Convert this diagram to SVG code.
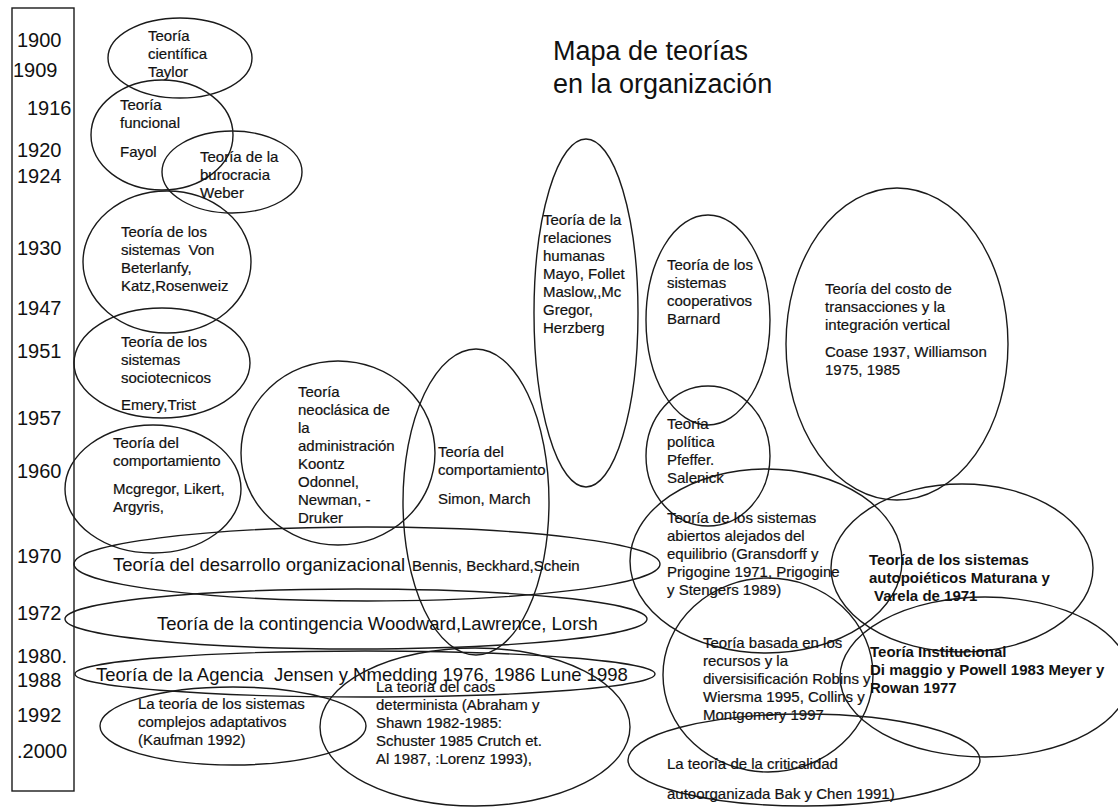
<svg xmlns="http://www.w3.org/2000/svg" width="1118" height="811" viewBox="0 0 1118 811">
<style>
  .bg{fill:#ffffff}
  ellipse,.axis{fill:none;stroke:#1a1a1a;stroke-width:1.4}
  text{font-family:"Liberation Sans",Arial,sans-serif;fill:#111}
  .yr{font-size:20px}
  .t{font-size:15px;stroke:#111;stroke-width:0.2}
  .b{font-size:15px;font-weight:bold}
  .big{font-size:18.5px}
  .title{font-size:27px}
</style>
<rect class="bg" x="0" y="0" width="1118" height="811"/>

<g id="timeline">
  <rect class="axis" x="12" y="8" width="62" height="783"/>
  <text class="yr" x="17" y="47">1900</text>
  <text class="yr" x="13" y="77">1909</text>
  <text class="yr" x="27" y="115">1916</text>
  <text class="yr" x="17" y="157">1920</text>
  <text class="yr" x="17" y="183">1924</text>
  <text class="yr" x="17" y="255">1930</text>
  <text class="yr" x="17" y="315">1947</text>
  <text class="yr" x="17" y="358">1951</text>
  <text class="yr" x="17" y="425">1957</text>
  <text class="yr" x="17" y="478">1960</text>
  <text class="yr" x="17" y="563">1970</text>
  <text class="yr" x="17" y="620">1972</text>
  <text class="yr" x="17" y="663">1980.</text>
  <text class="yr" x="17" y="687">1988</text>
  <text class="yr" x="17" y="722">1992</text>
  <text class="yr" x="17" y="758">.2000</text>
</g>

<g id="title">
  <text class="title" x="553" y="60">Mapa de teorías</text>
  <text class="title" x="553" y="93">en la organización</text>
</g>

<g id="taylor">
  <ellipse cx="180" cy="58" rx="72" ry="40"/>
  <text class="t" x="148" y="41">Teoría</text>
  <text class="t" x="148" y="59">científica</text>
  <text class="t" x="148" y="77">Taylor</text>
</g>

<g id="funcional">
  <ellipse cx="162" cy="135" rx="71" ry="55"/>
  <text class="t" x="120" y="110">Teoría</text>
  <text class="t" x="120" y="128">funcional</text>
  <text class="t" x="120" y="157">Fayol</text>
</g>

<g id="burocracia">
  <ellipse cx="232" cy="172" rx="70" ry="41"/>
  <text class="t" x="200" y="162">Teoría de la</text>
  <text class="t" x="200" y="180">burocracia</text>
  <text class="t" x="200" y="198">Weber</text>
</g>

<g id="sistemas">
  <ellipse cx="167" cy="262" rx="84" ry="71"/>
  <text class="t" x="121" y="237">Teoría de los</text>
  <text class="t" x="121" y="255" xml:space="preserve">sistemas  Von</text>
  <text class="t" x="121" y="273">Beterlanfy,</text>
  <text class="t" x="121" y="291">Katz,Rosenweiz</text>
</g>

<g id="sociotecnicos">
  <ellipse cx="162" cy="363" rx="88" ry="55"/>
  <text class="t" x="121" y="347">Teoría de los</text>
  <text class="t" x="121" y="365">sistemas</text>
  <text class="t" x="121" y="383">sociotecnicos</text>
  <text class="t" x="121" y="410">Emery,Trist</text>
</g>

<g id="comportamiento1">
  <ellipse cx="153" cy="489" rx="88" ry="64"/>
  <text class="t" x="113" y="448">Teoría del</text>
  <text class="t" x="113" y="466">comportamiento</text>
  <text class="t" x="113" y="494">Mcgregor, Likert,</text>
  <text class="t" x="113" y="512">Argyris,</text>
</g>

<g id="neoclasica">
  <ellipse cx="338" cy="453" rx="97" ry="92"/>
  <text class="t" x="298" y="397">Teoría</text>
  <text class="t" x="298" y="415">neoclásica de</text>
  <text class="t" x="298" y="433">la</text>
  <text class="t" x="298" y="451">administración</text>
  <text class="t" x="298" y="469">Koontz</text>
  <text class="t" x="298" y="487">Odonnel,</text>
  <text class="t" x="298" y="505">Newman, -</text>
  <text class="t" x="298" y="523">Druker</text>
</g>

<g id="comportamiento2">
  <ellipse cx="476" cy="502" rx="73" ry="153"/>
  <text class="t" x="438" y="457">Teoría del</text>
  <text class="t" x="438" y="475">comportamiento</text>
  <text class="t" x="438" y="504">Simon, March</text>
</g>

<g id="relaciones">
  <ellipse cx="586" cy="313" rx="52" ry="174"/>
  <text class="t" x="543" y="225">Teoría de la</text>
  <text class="t" x="543" y="243">relaciones</text>
  <text class="t" x="543" y="261">humanas</text>
  <text class="t" x="543" y="279">Mayo, Follet</text>
  <text class="t" x="543" y="297">Maslow,,Mc</text>
  <text class="t" x="543" y="315">Gregor,</text>
  <text class="t" x="543" y="333">Herzberg</text>
</g>

<g id="cooperativos">
  <ellipse cx="708" cy="320" rx="62" ry="105"/>
  <text class="t" x="667" y="270">Teoría de los</text>
  <text class="t" x="667" y="288">sistemas</text>
  <text class="t" x="667" y="306">cooperativos</text>
  <text class="t" x="667" y="324">Barnard</text>
</g>

<g id="politica">
  <ellipse cx="708" cy="456" rx="62" ry="70"/>
  <text class="t" x="667" y="429">Teoría</text>
  <text class="t" x="667" y="447">política</text>
  <text class="t" x="667" y="465">Pfeffer.</text>
  <text class="t" x="667" y="483">Salenick</text>
</g>

<g id="costo">
  <ellipse cx="897" cy="344" rx="111" ry="156"/>
  <text class="t" x="825" y="294">Teoría del costo de</text>
  <text class="t" x="825" y="312">transacciones y la</text>
  <text class="t" x="825" y="330">integración vertical</text>
  <text class="t" x="825" y="357">Coase 1937, Williamson</text>
  <text class="t" x="825" y="375">1975, 1985</text>
</g>

<g id="desarrollo">
  <ellipse cx="367" cy="564" rx="293" ry="37"/>
  <text class="big" x="113" y="571">Teoría del desarrollo organizacional</text>
  <text class="t" x="412" y="571">Bennis, Beckhard,Schein</text>
</g>

<g id="contingencia">
  <ellipse cx="356" cy="619" rx="291" ry="30"/>
  <text class="big" x="157" y="630">Teoría de la contingencia Woodward,Lawrence, Lorsh</text>
</g>

<g id="agencia">
  <ellipse cx="365" cy="674" rx="290" ry="23"/>
  <text class="big" x="96" y="681" xml:space="preserve">Teoría de la Agencia  Jensen y Nmedding 1976, 1986 Lune 1998</text>
</g>

<g id="complejos">
  <ellipse cx="233" cy="726" rx="133" ry="39"/>
  <text class="t" x="138" y="709">La teoría de los sistemas</text>
  <text class="t" x="138" y="727">complejos adaptativos</text>
  <text class="t" x="138" y="745">(Kaufman 1992)</text>
</g>

<g id="caos">
  <ellipse cx="475" cy="727" rx="155" ry="79"/>
  <text class="t" x="376" y="692">La teoría del caos</text>
  <text class="t" x="376" y="710">determinista (Abraham y</text>
  <text class="t" x="376" y="728">Shawn 1982-1985:</text>
  <text class="t" x="376" y="746">Schuster 1985 Crutch et.</text>
  <text class="t" x="376" y="764">Al 1987, :Lorenz 1993),</text>
</g>

<g id="abiertos">
  <ellipse cx="766" cy="561" rx="136" ry="92"/>
  <text class="t" x="667" y="523">Teoría de los sistemas</text>
  <text class="t" x="667" y="541">abiertos alejados del</text>
  <text class="t" x="667" y="559">equilibrio (Gransdorff y</text>
  <text class="t" x="667" y="577">Prigogine 1971, Prigogine</text>
  <text class="t" x="667" y="595">y Stengers 1989)</text>
</g>

<g id="autopoieticos">
  <ellipse cx="962" cy="568" rx="131" ry="84"/>
  <text class="b" x="869" y="565">Teoría de los sistemas</text>
  <text class="b" x="869" y="583">autopoiéticos Maturana y</text>
  <text class="b" x="874" y="601">Varela de 1971</text>
</g>

<g id="recursos">
  <ellipse cx="768" cy="675" rx="105" ry="97"/>
  <text class="t" x="703" y="648">Teoría basada en los</text>
  <text class="t" x="703" y="666">recursos y la</text>
  <text class="t" x="703" y="684">diversisificación Robins y</text>
  <text class="t" x="703" y="702">Wiersma 1995, Collins y</text>
  <text class="t" x="703" y="720">Montgomery 1997</text>
</g>

<g id="institucional">
  <ellipse cx="985" cy="677" rx="145" ry="80"/>
  <text class="b" x="870" y="657">Teoría Institucional</text>
  <text class="b" x="870" y="675">Di maggio y Powell 1983 Meyer y</text>
  <text class="b" x="870" y="693">Rowan 1977</text>
</g>

<g id="criticalidad">
  <ellipse cx="804" cy="760" rx="176" ry="46"/>
  <text class="t" x="667" y="769">La teoría de la criticalidad</text>
  <text class="t" x="667" y="799">autoorganizada Bak y Chen 1991)</text>
</g>
</svg>
